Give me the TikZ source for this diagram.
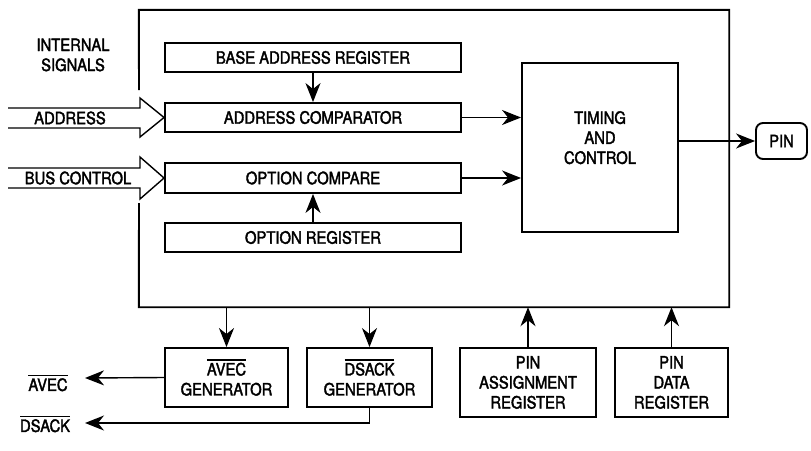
\documentclass[tikz,border=0pt]{standalone}
\usepackage{fontspec}
\setmainfont[FakeStretch=0.87,FakeBold=2]{TeX Gyre Heros}
\usetikzlibrary{arrows.meta}
% signal name with a thick bar over it
\newcommand\barred[1]{\setbox0\hbox{#1}\rlap{\raisebox{\dimexpr\ht0+2.2pt\relax}{\rule{\wd0}{1.3pt}}}\box0}
\begin{document}
\begin{tikzpicture}[x=1pt,y=-1pt,
  >={Stealth[length=19pt,width=15pt,inset=6pt]},
  txt/.style={font=\fontsize{17}{20}\selectfont},
  box/.style={draw, line width=1.9pt, inner sep=0pt, align=center, txt},
  lbl/.style={inner sep=0pt, align=center, txt},
  conn/.style={line width=1.4pt, ->},
  wide/.style={line width=1.4pt, line join=miter},
]
\useasboundingbox (0,0) rectangle (811,450);

% enclosing module outline, open on the left where the buses enter
\node[minimum width=590pt, minimum height=297pt, inner sep=0pt] (main) at (434,158.5) {};
\draw[line width=1.9pt] (139,90) -- (main.north west) -- (main.north east)
  -- (main.south east) -- (main.south west) -- (139,203);

% registers and comparators
\node[box, minimum width=296pt, minimum height=29pt] (base) at (313,57.5) {BASE ADDRESS REGISTER};
\node[box, minimum width=296pt, minimum height=29pt] (addr) at (313,117.5) {ADDRESS COMPARATOR};
\node[box, minimum width=296pt, minimum height=30pt] (optc) at (313,178) {OPTION COMPARE};
\node[box, minimum width=296pt, minimum height=29pt] (optr) at (313,237.5) {OPTION REGISTER};
\node[box, minimum width=156pt, minimum height=169pt] (timing) at (600,147.5) {TIMING\\AND\\CONTROL\\[0pt]};
\node[box, rounded corners=7pt, minimum width=51pt, minimum height=36pt] (pin) at (781.5,141) {PIN};

% generator and pin registers below the module
\node[box, minimum width=123pt, minimum height=59pt] (avecgen) at (226.5,377.5) {\barred{AVEC}\\GENERATOR};
\node[box, minimum width=125pt, minimum height=59pt] (dsackgen) at (369.5,377.5) {\barred{DSACK}\\GENERATOR};
\node[box, minimum width=136pt, minimum height=69pt] (pinasg) at (528,382.5) {PIN\\ASSIGNMENT\\REGISTER};
\node[box, minimum width=113pt, minimum height=69pt] (pindat) at (671.5,382.5) {PIN\\DATA\\REGISTER};

% labels
\node[lbl] (intsig) at (73,55) {INTERNAL\\SIGNALS};
\node[lbl] (addrlbl) at (70,118) {ADDRESS};
\node[lbl] (buslbl) at (78,178) {BUS CONTROL};
\node[lbl] (avecout) at (48,383) {\barred{AVEC}};
\node[lbl] (dsackout) at (45,424) {\barred{DSACK}};
\coordinate (avecend) at (85,378);
\coordinate (dsackend) at (85,423);

% wide bus arrows into the comparators
\draw[wide] (8,108) -- (140,108) -- (140,98) -- (addr.west) -- (140,137) -- (140,128) -- (8,128);
\draw[wide] (8,168) -- (140,168) -- (140,157) -- (optc.west) -- (140,199) -- (140,188) -- (8,188);

% internal connections
\draw[conn] (base.south) -- (addr.north);
\draw[conn] (optr.north) -- (optc.south);
\draw[conn] (addr.east) -- (addr.east -| timing.west);
\draw[conn] (optc.east) -- (optc.east -| timing.west);
\draw[conn] (timing.east |- pin.west) -- (pin.west);

% connections across the module boundary
\draw[conn] (avecgen.north |- main.south) -- (avecgen.north);
\draw[conn] (dsackgen.north |- main.south) -- (dsackgen.north);
\draw[conn] (pinasg.north) -- (pinasg.north |- main.south);
\draw[conn] (pindat.north) -- (pindat.north |- main.south);

% external outputs
\draw[conn] (avecgen.west) -- (avecend);
\draw[conn] (dsackgen.south) -- (dsackgen.south |- dsackend) -- (dsackend);
\end{tikzpicture}
\end{document}
